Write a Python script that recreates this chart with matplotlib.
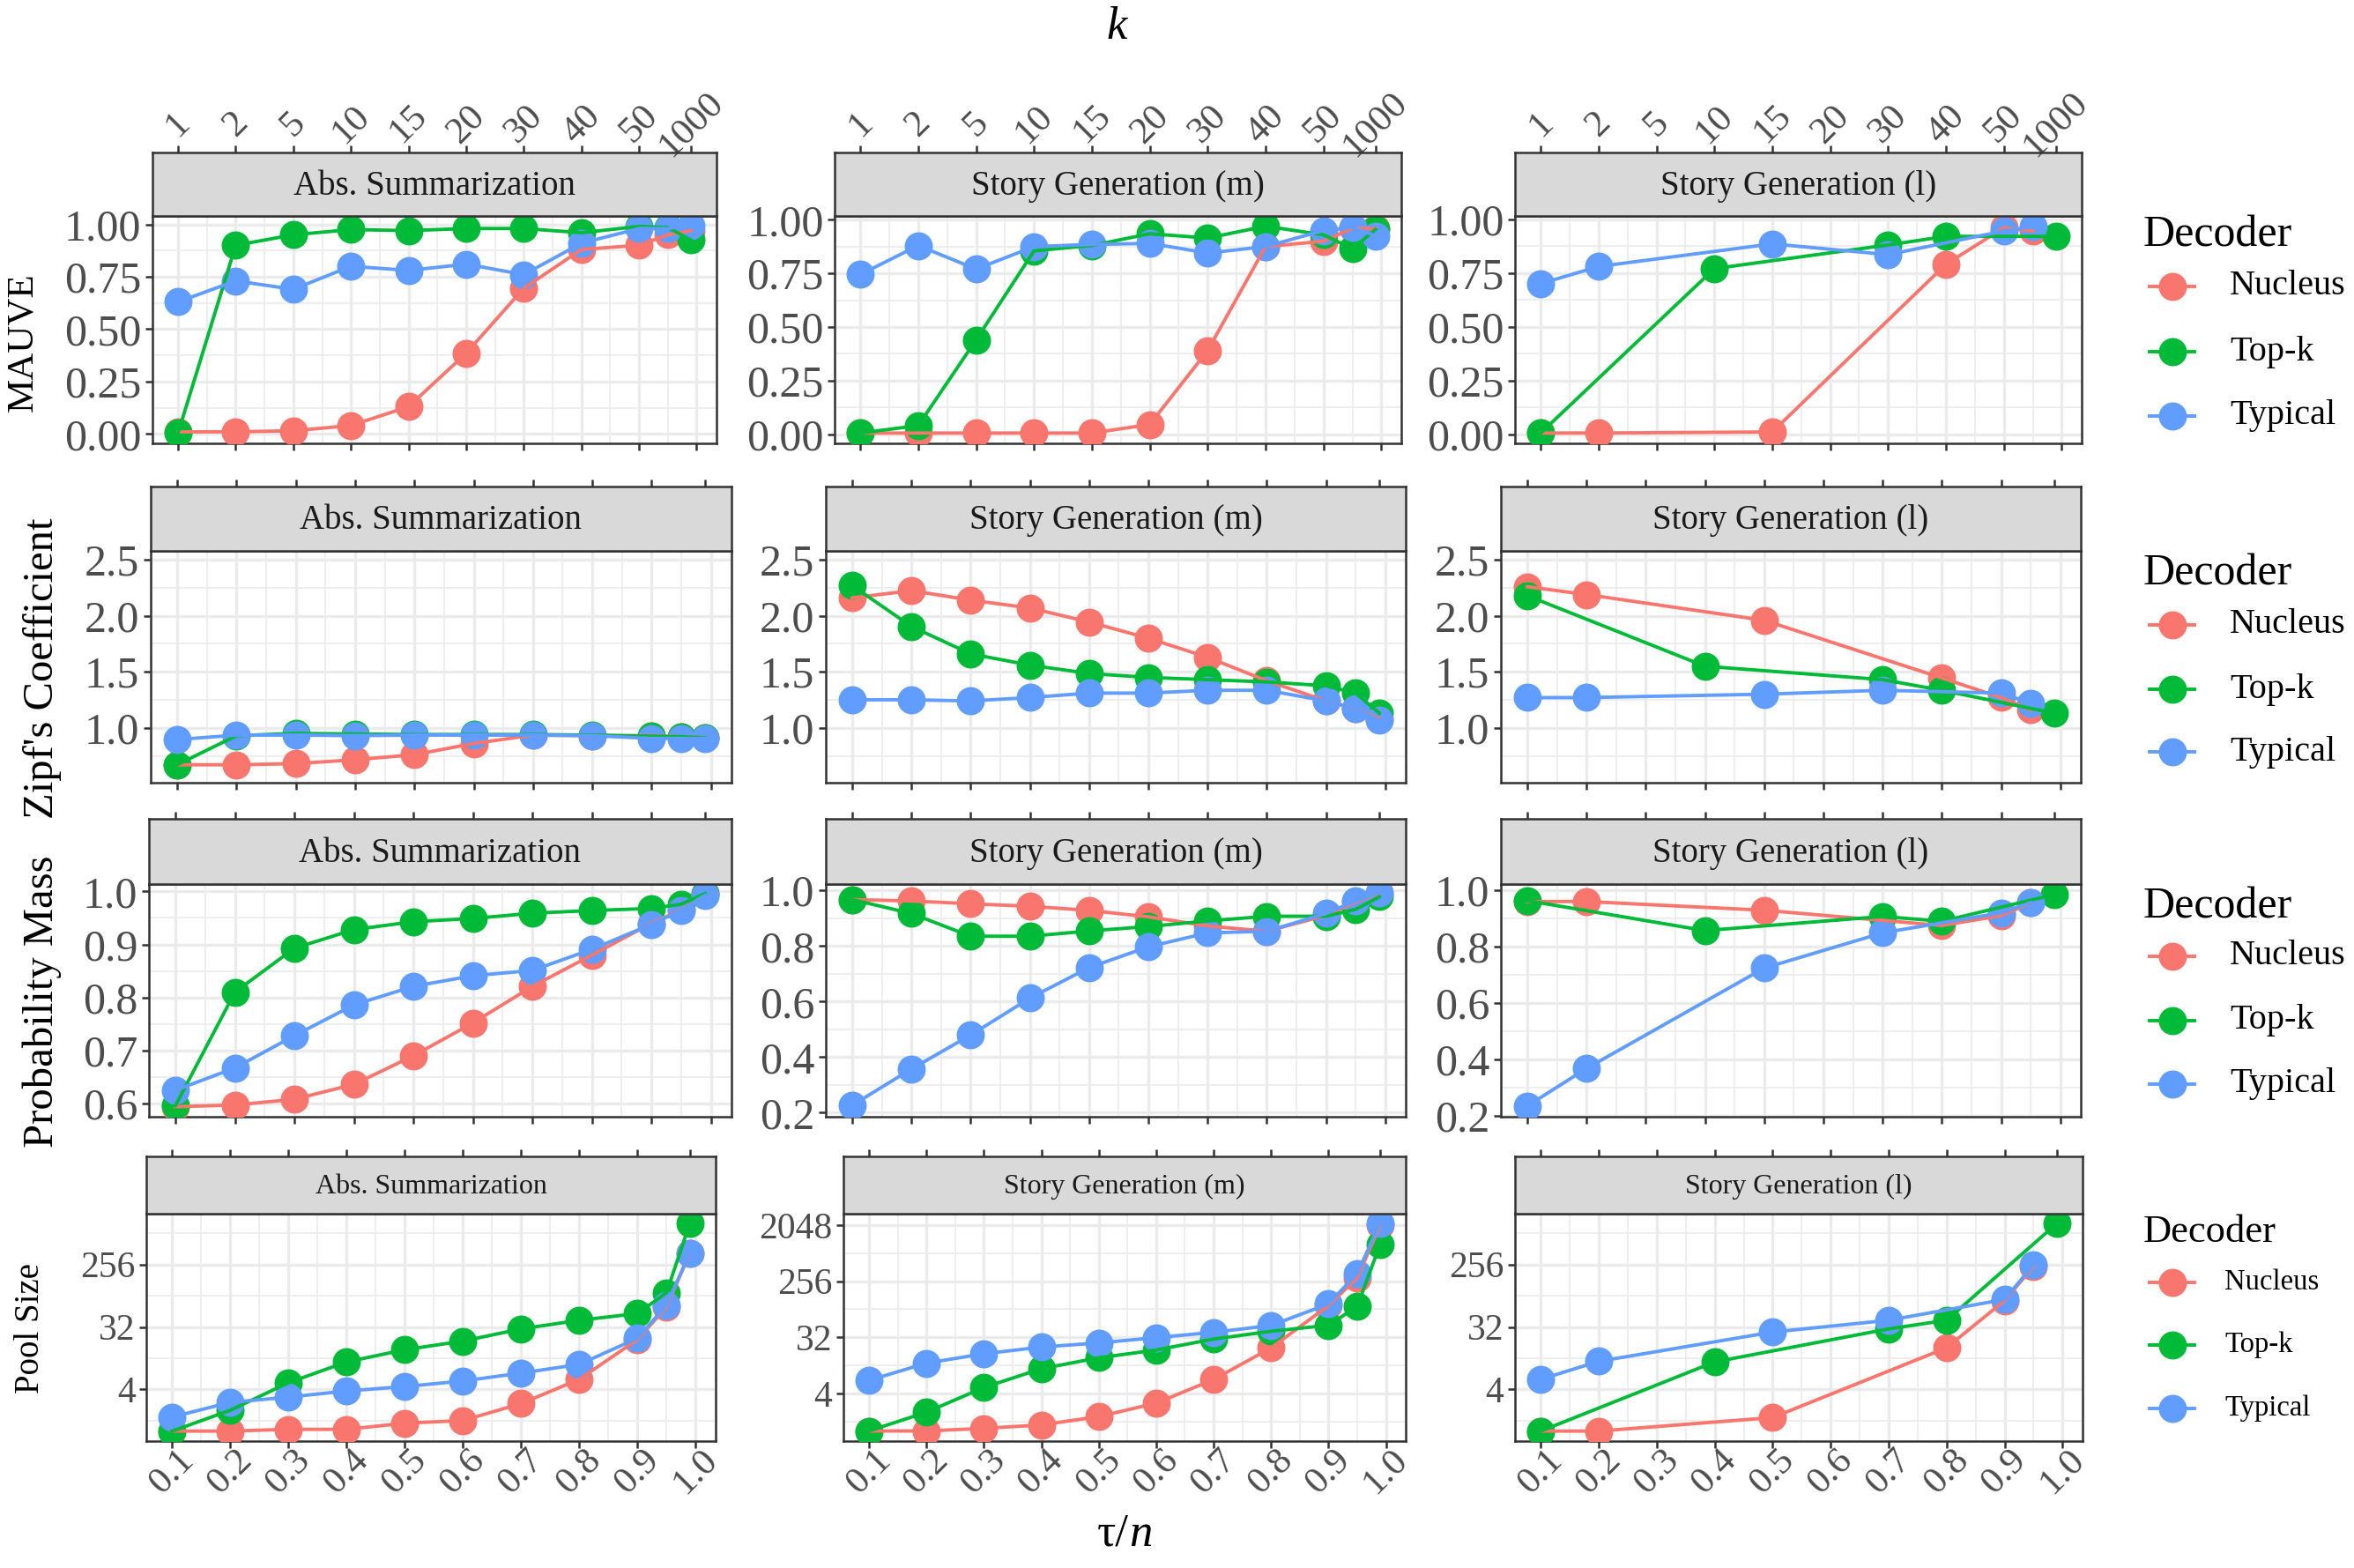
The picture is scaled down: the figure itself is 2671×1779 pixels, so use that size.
import numpy as np
import matplotlib
matplotlib.use("Agg")
import matplotlib.pyplot as plt
from matplotlib.lines import Line2D
from matplotlib.ticker import NullFormatter

plt.rcParams["font.family"] = ["Liberation Serif", "DejaVu Serif"]

nan = np.nan

# shared x grid (tau / n); top-k is placed on the same positions
TAU = [0.1, 0.2, 0.3, 0.4, 0.5, 0.6, 0.7, 0.8, 0.9, 0.95, 0.99]
TAU_TICKS = [0.1, 0.2, 0.3, 0.4, 0.5, 0.6, 0.7, 0.8, 0.9, 1.0]
TAU_LABELS = ["0.1", "0.2", "0.3", "0.4", "0.5", "0.6", "0.7", "0.8", "0.9", "1.0"]
K_TICK_POS = [0.1, 0.2, 0.3, 0.4, 0.5, 0.6, 0.7, 0.8, 0.9, 0.99]
K_LABELS = ["1", "2", "5", "10", "15", "20", "30", "40", "50", "1000"]

TASKS = ["Abs. Summarization", "Story Generation (m)", "Story Generation (l)"]
DECODERS = ["Nucleus", "Top-k", "Typical"]
COLORS = ["#F8766D", "#00BA38", "#619CFF"]

# ---- MAUVE ----
mauve_abs_nucleus = [0.01, 0.01, 0.015, 0.04, 0.13, 0.385, 0.695, 0.88, 0.90, 0.95, 0.97]
mauve_abs_topk = [0.005, 0.90, 0.95, 0.975, 0.97, 0.98, 0.98, 0.96, 0.99, 0.985, 0.925]
mauve_abs_typical = [0.63, 0.73, 0.69, 0.80, 0.78, 0.81, 0.76, 0.91, 0.98, 0.98, 0.995]
mauve_m_nucleus = [0.005, 0.005, 0.005, 0.005, 0.005, 0.045, 0.39, 0.875, 0.90, 0.96, 0.96]
mauve_m_topk = [0.005, 0.04, 0.44, 0.855, 0.88, 0.935, 0.915, 0.97, 0.93, 0.865, 0.955]
mauve_m_typical = [0.745, 0.88, 0.77, 0.875, 0.885, 0.89, 0.845, 0.875, 0.95, 0.965, 0.925]
mauve_l_nucleus = [0.005, 0.005, nan, nan, 0.01, nan, nan, 0.79, 0.96, 0.945, nan]
mauve_l_topk = [0.005, nan, nan, 0.77, nan, nan, 0.88, 0.92, nan, nan, 0.92]
mauve_l_typical = [0.70, 0.78, nan, nan, 0.885, nan, 0.835, nan, 0.945, 0.965, nan]

# ---- Zipf's coefficient ----
zipf_abs_nucleus = [0.67, 0.67, 0.68, 0.715, 0.76, 0.86, 0.935, 0.93, 0.93, 0.92, 0.91]
zipf_abs_topk = [0.67, 0.93, 0.95, 0.945, 0.94, 0.94, 0.94, 0.935, 0.925, 0.92, 0.91]
zipf_abs_typical = [0.895, 0.935, 0.935, 0.93, 0.935, 0.935, 0.935, 0.93, 0.905, 0.905, 0.905]
zipf_m_nucleus = [2.16, 2.225, 2.14, 2.07, 1.945, 1.80, 1.63, 1.42, 1.24, 1.17, 1.08]
zipf_m_topk = [2.27, 1.905, 1.66, 1.56, 1.485, 1.45, 1.43, 1.41, 1.375, 1.31, 1.13]
zipf_m_typical = [1.25, 1.25, 1.24, 1.27, 1.31, 1.31, 1.335, 1.335, 1.24, 1.17, 1.065]
zipf_l_nucleus = [2.26, 2.19, nan, nan, 1.96, nan, nan, 1.445, 1.27, 1.16, nan]
zipf_l_topk = [2.18, nan, nan, 1.55, nan, nan, 1.43, 1.335, nan, nan, 1.13]
zipf_l_typical = [1.27, 1.27, nan, nan, 1.30, nan, 1.335, nan, 1.31, 1.22, nan]

# ---- probability mass ----
pm_abs_nucleus = [0.594, 0.597, 0.608, 0.636, 0.69, 0.752, 0.821, 0.88, 0.94, 0.965, 0.995]
pm_abs_topk = [0.596, 0.81, 0.893, 0.928, 0.943, 0.949, 0.959, 0.964, 0.968, 0.976, 0.996]
pm_abs_typical = [0.625, 0.667, 0.728, 0.786, 0.821, 0.841, 0.851, 0.891, 0.938, 0.964, 0.993]
pm_m_nucleus = [0.967, 0.962, 0.952, 0.943, 0.928, 0.905, 0.872, 0.853, 0.91, 0.958, 0.99]
pm_m_topk = [0.967, 0.917, 0.835, 0.835, 0.854, 0.87, 0.89, 0.907, 0.907, 0.932, 0.977]
pm_m_typical = [0.226, 0.357, 0.479, 0.612, 0.722, 0.797, 0.847, 0.853, 0.917, 0.962, 0.992]
pm_l_nucleus = [0.96, 0.96, nan, nan, 0.929, nan, nan, 0.875, 0.91, 0.955, nan]
pm_l_topk = [0.963, nan, nan, 0.857, nan, nan, 0.907, 0.89, nan, nan, 0.985]
pm_l_typical = [0.235, 0.368, nan, nan, 0.724, nan, 0.849, nan, 0.92, 0.956, nan]

# ---- pool size ----
pool_abs_nucleus = [1, 1, 1.06, 1.06, 1.3, 1.42, 2.5, 5.6, 21, 62, 370]
pool_abs_topk = [1, 2, 5, 10, 15, 20, 30, 40, 50, 100, 1000]
pool_abs_typical = [1.6, 2.6, 3.1, 3.8, 4.4, 5.3, 6.9, 9.2, 22, 66, 375]
pool_m_nucleus = [1, 1, 1.1, 1.25, 1.7, 2.8, 6.7, 21.6, 103, 290, 2000]
pool_m_topk = [1, 2, 5, 10, 15, 20, 30, 40, 50, 100, 1000]
pool_m_typical = [6.5, 12.3, 17.4, 22.3, 26, 31.6, 38.5, 49.6, 110, 340, 2170]
pool_l_nucleus = [1, 1, nan, nan, 1.57, nan, nan, 16, 77, 240, nan]
pool_l_topk = [1, nan, nan, 10, nan, nan, 30, 40, nan, nan, 1000]
pool_l_typical = [5.6, 10.2, nan, nan, 27, nan, 40, nan, 80, 254, nan]

rows = [
    dict(ylabel="MAUVE",
         series=[[mauve_abs_nucleus, mauve_abs_topk, mauve_abs_typical],
                 [mauve_m_nucleus, mauve_m_topk, mauve_m_typical],
                 [mauve_l_nucleus, mauve_l_topk, mauve_l_typical]],
         ylims=[(-0.045, 1.04), (-0.043, 1.018), (-0.043, 1.015)],
         yticks=[[0, 0.25, 0.5, 0.75, 1.0]] * 3,
         ylabels=[["0.00", "0.25", "0.50", "0.75", "1.00"]] * 3,
         yminor=[[0.125, 0.375, 0.625, 0.875]] * 3),
    dict(ylabel="Zipf's Coefficient",
         series=[[zipf_abs_nucleus, zipf_abs_topk, zipf_abs_typical],
                 [zipf_m_nucleus, zipf_m_topk, zipf_m_typical],
                 [zipf_l_nucleus, zipf_l_topk, zipf_l_typical]],
         ylims=[(0.51, 2.58)] * 3,
         yticks=[[1.0, 1.5, 2.0, 2.5]] * 3,
         ylabels=[["1.0", "1.5", "2.0", "2.5"]] * 3,
         yminor=[[0.75, 1.25, 1.75, 2.25]] * 3),
    dict(ylabel="Probability Mass",
         series=[[pm_abs_nucleus, pm_abs_topk, pm_abs_typical],
                 [pm_m_nucleus, pm_m_topk, pm_m_typical],
                 [pm_l_nucleus, pm_l_topk, pm_l_typical]],
         ylims=[(0.575, 1.014), (0.185, 1.023), (0.197, 1.022)],
         yticks=[[0.6, 0.7, 0.8, 0.9, 1.0], [0.2, 0.4, 0.6, 0.8, 1.0], [0.2, 0.4, 0.6, 0.8, 1.0]],
         ylabels=[["0.6", "0.7", "0.8", "0.9", "1.0"], ["0.2", "0.4", "0.6", "0.8", "1.0"],
                  ["0.2", "0.4", "0.6", "0.8", "1.0"]],
         yminor=[[0.65, 0.75, 0.85, 0.95], [0.3, 0.5, 0.7, 0.9], [0.3, 0.5, 0.7, 0.9]]),
    dict(ylabel="Pool Size",
         series=[[pool_abs_nucleus, pool_abs_topk, pool_abs_typical],
                 [pool_m_nucleus, pool_m_topk, pool_m_typical],
                 [pool_l_nucleus, pool_l_topk, pool_l_typical]],
         ylims=[(2 ** -0.48, 2 ** 10.44), (2 ** -0.54, 2 ** 11.6), (2 ** -0.48, 2 ** 10.44)],
         yticks=[[4, 32, 256], [4, 32, 256, 2048], [4, 32, 256]],
         ylabels=[["4", "32", "256"], ["4", "32", "256", "2048"], ["4", "32", "256"]],
         yminor=[[2 ** 0.5, 2 ** 3.5, 2 ** 6.5, 2 ** 9.5]] * 3),
]

# ---- layout (pixels) ----
W, H = 2671, 1779
STRIP_TOP = [173, 552, 929, 1312]
PANEL_TOP = [245, 625, 1003, 1377]
PANEL_BOT = [503, 888, 1267, 1635]
COL_X = [[(173, 813), (947, 1590), (1719, 2362)],
         [(171, 830), (937, 1595), (1703, 2361)],
         [(169, 830), (937, 1595), (1703, 2361)],
         [(166, 812), (957, 1595), (1719, 2363)]]
YLAB_POS = [(26, 388, 31), (48, 758, 35), (48, 1136, 35), (34, 1507, 28)]
LEG_Y = [(267, [325, 399, 472]), (651, [709, 782, 853]),
         (1029, [1085, 1158, 1230]), (1398, [1455, 1526, 1598])]
XLIM = (0.0555, 1.0345)

DARK = "#333333"
GRID = "#EBEBEB"
TXT = "#4D4D4D"
MS = 23
LW = 2.8

fig = plt.figure(figsize=(W / 100, H / 100), dpi=100)


def box(l, r, t, b):
    return [l / W, 1 - b / H, (r - l) / W, (b - t) / H]


for ri, row in enumerate(rows):
    small = ri == 3
    for ci in range(3):
        l, r = COL_X[ri][ci]
        ax = fig.add_axes(box(l, r, PANEL_TOP[ri], PANEL_BOT[ri]))
        sax = fig.add_axes(box(l, r, STRIP_TOP[ri], PANEL_TOP[ri]))

        # strip
        sax.set_facecolor("#D9D9D9")
        sax.set_xlim(XLIM)
        sax.set_yticks([])
        sax.xaxis.tick_top()
        sax.set_xticks(K_TICK_POS)
        if ri == 0:
            sax.set_xticklabels(K_LABELS, rotation=45, ha="center", va="center",
                                rotation_mode="anchor", fontsize=31, color=TXT)
        else:
            sax.set_xticklabels([])
        sax.tick_params(axis="x", direction="out", length=6, width=1.8, color=DARK, pad=17)
        for s in sax.spines.values():
            s.set_color(DARK)
            s.set_linewidth(1.8)
        sax.text(0.5, 0.47, TASKS[ci], transform=sax.transAxes, ha="center", va="center",
                 fontsize=23 if small else 28, color="#1A1A1A")

        # panel
        if small:
            ax.set_yscale("log", base=2)
        ax.set_xlim(XLIM)
        ax.set_ylim(row["ylims"][ci])
        ax.set_xticks(TAU_TICKS)
        ax.set_xticks([0.15, 0.25, 0.35, 0.45, 0.55, 0.65, 0.75, 0.85, 0.95], minor=True)
        ax.set_yticks(row["yticks"][ci])
        ax.set_yticklabels(row["ylabels"][ci])
        ax.set_yticks(row["yminor"][ci], minor=True)
        ax.yaxis.set_minor_formatter(NullFormatter())
        if ri == 3:
            ax.set_xticklabels(TAU_LABELS, rotation=45, ha="center", va="center",
                               rotation_mode="anchor", fontsize=31, color=TXT)
        else:
            ax.set_xticklabels([])
        ax.tick_params(axis="x", which="major", direction="out", length=6, width=1.8,
                       color=DARK, pad=19)
        ax.tick_params(axis="y", which="major", direction="out", length=6, width=1.8,
                       color=DARK, pad=3, labelsize=30 if small else 36, labelcolor=TXT)
        ax.tick_params(which="minor", length=0)
        ax.grid(which="major", color=GRID, lw=2.4)
        ax.grid(which="minor", color=GRID, lw=1.2)
        ax.set_axisbelow(True)
        for s in ax.spines.values():
            s.set_color(DARK)
            s.set_linewidth(1.8)

        series = row["series"][ci]
        # points first, lines on top (as in the original)
        for i, ys in enumerate(series):
            xs = np.array(TAU)
            ys = np.array(ys, dtype=float)
            m = ~np.isnan(ys)
            ax.plot(xs[m], ys[m], "o", ms=MS, color=COLORS[i], mec="none", zorder=3 + 0.1 * i)
        for i, ys in enumerate(series):
            xs = np.array(TAU)
            ys = np.array(ys, dtype=float)
            m = ~np.isnan(ys)
            ax.plot(xs[m], ys[m], "-", lw=LW, color=COLORS[i], zorder=4 + 0.1 * i)

    # y axis title
    x, y, fs = YLAB_POS[ri]
    fig.text(x / W, 1 - y / H, row["ylabel"], rotation=90, ha="center", va="center",
             fontsize=fs, color="black")

    # legend
    ty, ey = LEG_Y[ri]
    fig.text(2432 / W, 1 - ty / H, "Decoder", ha="left", va="center",
             fontsize=32 if small else 36, color="black")
    for i, name in enumerate(DECODERS):
        yy = 1 - ey[i] / H
        fig.add_artist(Line2D([2439 / W, 2490 / W], [yy, yy], transform=fig.transFigure,
                              color=COLORS[i], lw=LW))
        fig.add_artist(Line2D([2465 / W], [yy], transform=fig.transFigure, marker="o",
                              ms=MS, color=COLORS[i], mec="none", lw=0))
        fig.text((2524 if small else 2530) / W, yy, name, ha="left", va="center",
                 fontsize=23.5 if small else 29, color="black")

# top and bottom titles
fig.text(1267 / W, 1 - 31 / H, "k", ha="center", va="center", fontsize=38, style="italic")
fig.text(1281 / W, 1 - 1741 / H, "τ/", ha="right", va="center", fontsize=38)
fig.text(1281 / W, 1 - 1741 / H, "n", ha="left", va="center", fontsize=38, style="italic")

fig.savefig("out.png", dpi=100, facecolor="white")
